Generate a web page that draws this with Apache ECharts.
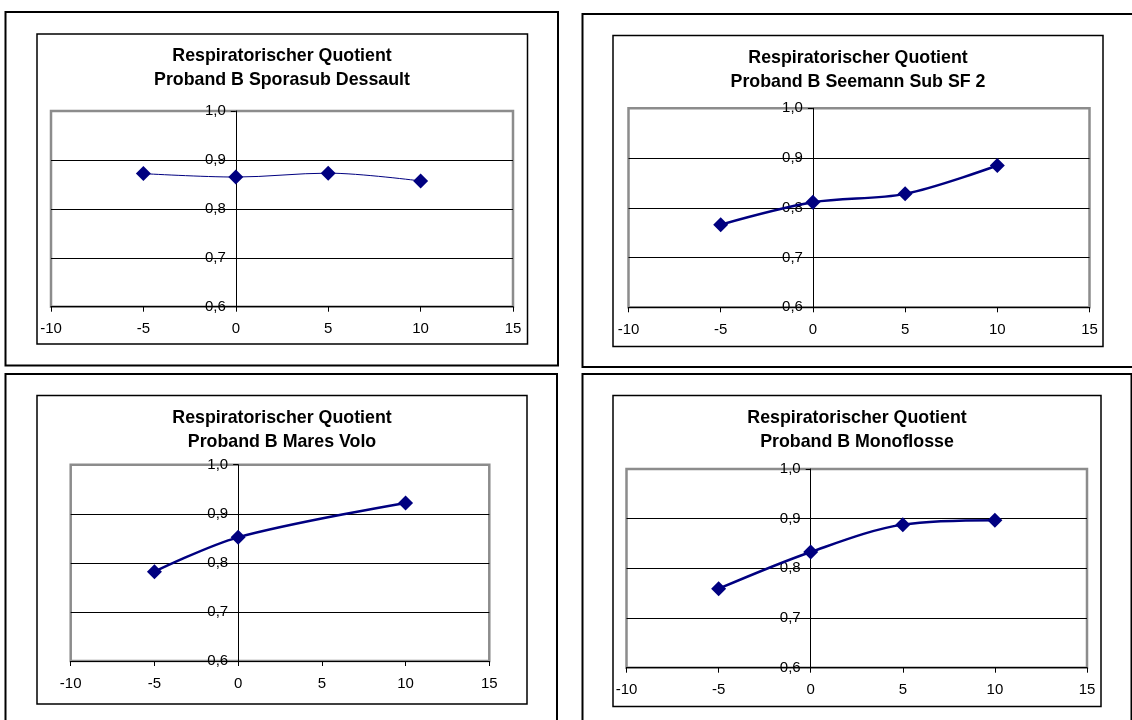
<!DOCTYPE html>
<html><head><meta charset="utf-8">
<script src="https://cdn.jsdelivr.net/npm/echarts@6/dist/echarts.min.js"></script>
<style>html,body{margin:0;padding:0;background:#fff}#c{width:1132px;height:720px}</style>
</head><body><div id="c"></div>
<script>
// ---- data ----
const titleMain = 'Respiratorischer Quotient';
const subjects = ['Proband B Sporasub Dessault', 'Proband B Seemann Sub SF 2', 'Proband B Mares Volo', 'Proband B Monoflosse'];
const yTickLabels = ['0,6', '0,7', '0,8', '0,9', '1,0'];
const xDessault = [-5, 0, 5, 10];
const yDessault = [0.872, 0.865, 0.873, 0.857];
const xSeemann = [-5, 0, 5, 10];
const ySeemann = [0.766, 0.811, 0.828, 0.885];
const xMares = [-5, 0, 10];
const yMares = [0.782, 0.852, 0.922];
const xMono = [-5, 0, 5, 10];
const yMono = [0.759, 0.833, 0.888, 0.897];

const seriesX = [xDessault, xSeemann, xMares, xMono];
const seriesY = [yDessault, ySeemann, yMares, yMono];

// ---- layout ----
const X_MIN = -10, X_MAX = 15;
const panels = [
  {outer: [5.5, 12, 552.5, 353.5], inner: [37, 34, 490.5, 310], grid: [51, 111, 462, 195.7], tx: 282, ty: 44, lw: 1},
  {outer: [582.5, 14, 580, 353], inner: [613, 35.5, 490, 311], grid: [628.5, 108.3, 461, 199], tx: 858, ty: 45.7, lw: 2.5},
  {outer: [5.5, 374, 551.5, 360], inner: [37, 395.5, 490, 308.5], grid: [70.7, 464.7, 418.6, 196.3], tx: 282, ty: 406.3, lw: 2.5},
  {outer: [582.5, 374, 549, 360], inner: [613, 395.5, 488, 311], grid: [626.5, 469, 460.5, 198.7], tx: 857, ty: 405.7, lw: 2.5}
];

const FONT = '"Liberation Sans", Arial, sans-serif';
const option = {
  backgroundColor: '#fff',
  animation: false,
  title: [], grid: [], xAxis: [], yAxis: [], series: [], graphic: []
};

panels.forEach((p, i) => {
  option.graphic.push({
    type: 'rect', z: -10, silent: true,
    shape: {x: p.outer[0], y: p.outer[1], width: p.outer[2], height: p.outer[3]},
    style: {fill: 'none', stroke: '#000', lineWidth: 2}
  });
  option.graphic.push({
    type: 'rect', z: -10, silent: true,
    shape: {x: p.inner[0], y: p.inner[1], width: p.inner[2], height: p.inner[3]},
    style: {fill: 'none', stroke: '#000', lineWidth: 1.5}
  });
  option.title.push({
    text: titleMain + '\n' + subjects[i],
    left: p.tx, top: p.ty, textAlign: 'center', padding: 0,
    textStyle: {fontFamily: FONT, fontSize: 17.8, fontWeight: 'bold', color: '#000', lineHeight: 24}
  });
  option.grid.push({
    left: p.grid[0], top: p.grid[1], width: p.grid[2], height: p.grid[3],
    show: true, borderColor: '#8c8c8c', borderWidth: 2.5, backgroundColor: 'transparent',
    containLabel: false, outerBoundsMode: 'none'
  });
  option.xAxis.push({
    type: 'value', gridIndex: i, min: X_MIN, max: X_MAX, interval: 5,
    axisLine: {show: true, onZero: false, lineStyle: {color: '#000', width: 1.2}},
    axisTick: {show: true, inside: false, length: 5, lineStyle: {color: '#000', width: 1}},
    axisLabel: {show: true, margin: 15, fontFamily: FONT, fontSize: 15, color: '#000'},
    splitLine: {show: false}
  });
  // place the value axis on x = 0 by shifting it from the grid's left edge
  const zeroShift = p.grid[2] * (0 - X_MIN) / (X_MAX - X_MIN);
  option.yAxis.push({
    type: 'value', gridIndex: i, min: 0.6, max: 1.0, interval: 0.1,
    position: 'left', offset: -zeroShift,
    axisLine: {show: true, onZero: false, lineStyle: {color: '#000', width: 1}},
    axisTick: {show: true, inside: false, length: 5, lineStyle: {color: '#000', width: 1}},
    axisLabel: {show: true, margin: 10, fontFamily: FONT, fontSize: 15, color: '#000',
      formatter: v => yTickLabels[Math.round((v - 0.6) / 0.1)]},
    splitLine: {show: true, showMinLine: false, showMaxLine: false, lineStyle: {color: '#000', width: 1}}
  });
  option.series.push({
    type: 'line', xAxisIndex: i, yAxisIndex: i,
    data: seriesX[i].map((x, k) => [x, seriesY[i][k]]),
    smooth: 0.33,
    symbol: 'diamond', symbolSize: 15,
    lineStyle: {color: '#000080', width: p.lw},
    itemStyle: {color: '#000080', borderWidth: 0},
    z: 5
  });
});

const chart = echarts.init(document.getElementById('c'), null, {renderer: 'canvas'});
chart.setOption(option);
</script>
</body></html>
